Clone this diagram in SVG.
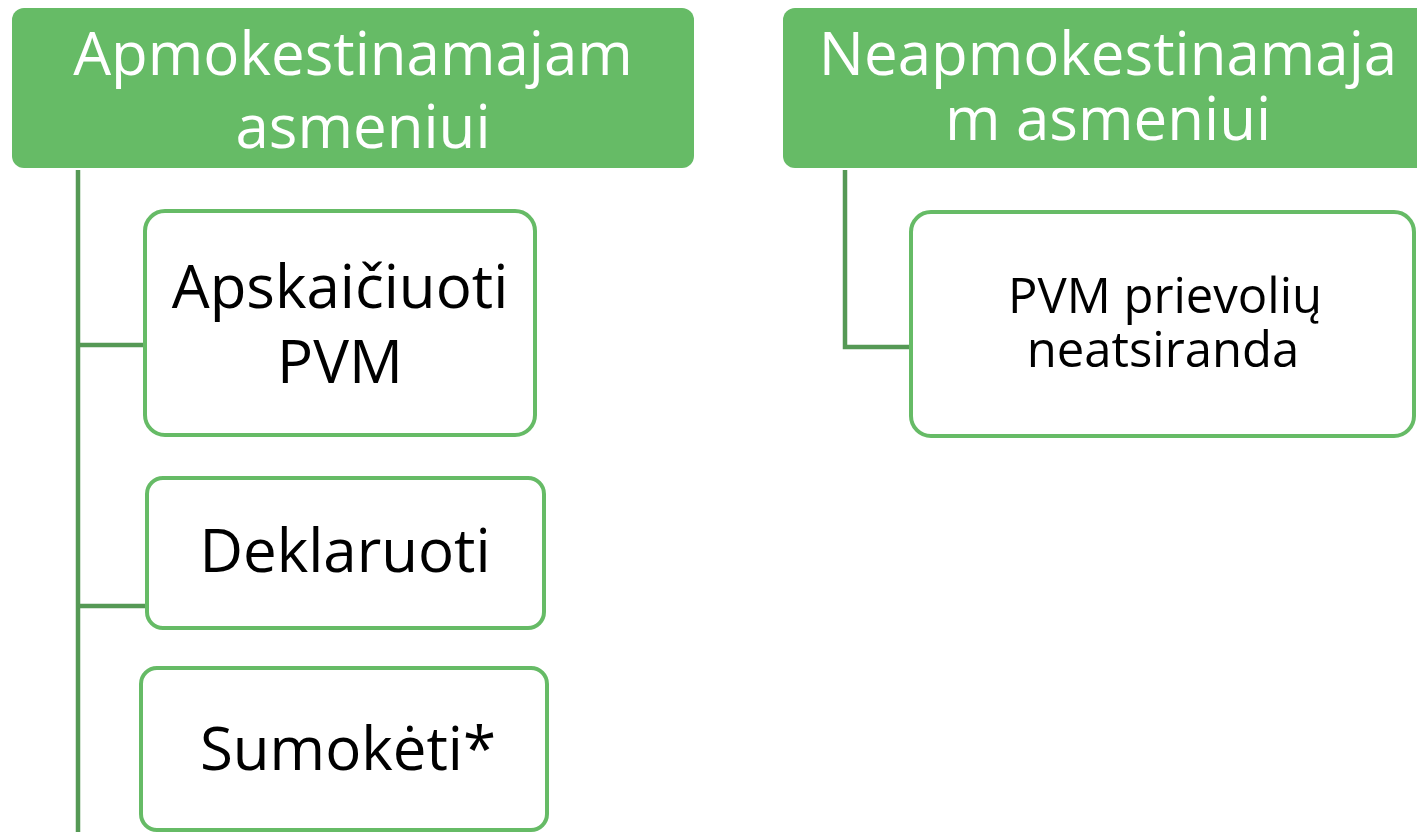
<svg xmlns="http://www.w3.org/2000/svg" width="1417" height="832" viewBox="0 0 1417 832">
<style>
.hdr{fill:#66BB66;}
.box{fill:#FFFFFF;stroke:#66BB66;stroke-width:4;}
.conn{fill:none;stroke:#559955;stroke-width:4.5;}
.ht{font-family:"Open Sans","Liberation Sans",sans-serif;font-size:60px;fill:#FFFFFF;text-anchor:middle;}
.bt{font-family:"Open Sans","Liberation Sans",sans-serif;font-size:60px;fill:#000000;text-anchor:middle;}
.st{font-family:"Open Sans","Liberation Sans",sans-serif;font-size:49px;fill:#000000;text-anchor:middle;}
</style>
<rect width="1417" height="832" fill="#FFFFFF"/>
<g id="connectors">
<path class="conn" d="M78 170 V832"/>
<path class="conn" d="M78 345 H147"/>
<path class="conn" d="M78 606 H149"/>
<path class="conn" d="M845 170 V347 H913"/>
</g>
<g id="header1">
<rect class="hdr" x="12" y="8" width="682" height="160" rx="12"/>
<text class="ht" x="353" y="75">Apmokestinamajam</text>
<text class="ht" x="363" y="148">asmeniui</text>
</g>
<g id="header2">
<rect class="hdr" x="783" y="8" width="660" height="160" rx="12"/>
<text class="ht" x="1108" y="75">Neapmokestinamaja</text>
<text class="ht" x="1108" y="140">m asmeniui</text>
</g>
<g id="box1">
<rect class="box" x="145" y="211" width="390" height="224" rx="20"/>
<text class="bt" x="340" y="308">Apskaičiuoti</text>
<text class="bt" x="340" y="383">PVM</text>
</g>
<g id="box2">
<rect class="box" x="147" y="478" width="397" height="150" rx="16"/>
<text class="bt" x="345" y="572">Deklaruoti</text>
</g>
<g id="box3">
<rect class="box" x="141" y="668" width="406" height="162" rx="16"/>
<text class="bt" x="348" y="770">Sumokėti*</text>
</g>
<g id="box4">
<rect class="box" x="911" y="212" width="503" height="224" rx="20"/>
<text class="st" x="1165" y="313">PVM prievolių</text>
<text class="st" x="1163" y="367">neatsiranda</text>
</g>
</svg>
